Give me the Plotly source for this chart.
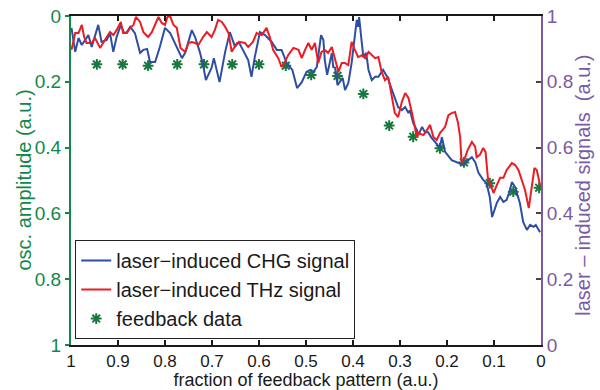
import plotly.graph_objects as go

# laser-induced CHG signal (fraction of feedback pattern, signal a.u.)
chg_points = [
    (0.999, 0.964), (0.991, 0.891), (0.984, 0.933), (0.977, 0.912), (0.963, 0.942),
    (0.956, 0.906), (0.942, 0.973), (0.935, 0.921), (0.924, 0.927), (0.917, 0.948),
    (0.910, 0.891), (0.903, 0.936), (0.894, 0.973), (0.887, 0.948), (0.881, 0.951),
    (0.874, 0.967), (0.864, 0.948), (0.853, 0.888), (0.846, 0.897), (0.838, 0.900),
    (0.832, 0.860), (0.821, 0.860), (0.811, 0.906), (0.800, 0.964), (0.789, 0.948),
    (0.779, 0.918), (0.764, 0.872), (0.757, 0.888), (0.743, 0.957), (0.736, 0.936),
    (0.726, 0.891), (0.719, 0.851), (0.713, 0.805), (0.701, 0.842), (0.696, 0.872),
    (0.684, 0.799), (0.672, 0.891), (0.662, 0.951), (0.651, 0.906), (0.643, 0.921),
    (0.632, 0.888), (0.623, 0.866), (0.616, 0.815), (0.609, 0.875), (0.598, 0.951),
    (0.587, 0.942), (0.573, 0.921), (0.562, 0.897), (0.552, 0.897), (0.541, 0.857),
    (0.529, 0.836), (0.519, 0.781), (0.509, 0.799), (0.499, 0.830), (0.491, 0.836),
    (0.484, 0.830), (0.477, 0.845), (0.472, 0.897), (0.468, 0.942), (0.463, 0.927),
    (0.460, 0.866), (0.455, 0.821), (0.449, 0.857), (0.445, 0.888), (0.442, 0.845),
    (0.438, 0.842), (0.433, 0.790), (0.428, 0.799), (0.422, 0.812), (0.417, 0.775),
    (0.410, 0.796), (0.403, 0.857), (0.397, 0.936), (0.392, 0.988), (0.389, 0.967),
    (0.387, 0.997), (0.383, 0.942), (0.378, 0.875), (0.372, 0.888), (0.367, 0.836),
    (0.360, 0.805), (0.353, 0.815), (0.346, 0.815), (0.336, 0.836), (0.327, 0.815),
    (0.311, 0.754), (0.304, 0.723), (0.296, 0.714), (0.289, 0.723), (0.282, 0.705),
    (0.279, 0.714), (0.272, 0.675), (0.264, 0.653), (0.261, 0.638), (0.253, 0.663),
    (0.247, 0.647), (0.240, 0.647), (0.234, 0.632), (0.224, 0.614), (0.215, 0.599),
    (0.211, 0.632), (0.204, 0.587), (0.190, 0.562), (0.179, 0.556), (0.165, 0.547),
    (0.155, 0.562), (0.147, 0.571), (0.140, 0.556), (0.133, 0.523), (0.123, 0.502),
    (0.116, 0.492), (0.109, 0.450), (0.104, 0.389), (0.094, 0.432), (0.087, 0.450),
    (0.080, 0.435), (0.073, 0.441), (0.066, 0.471), (0.062, 0.495), (0.055, 0.480),
    (0.048, 0.450), (0.045, 0.432), (0.038, 0.374), (0.030, 0.350), (0.023, 0.365),
    (0.016, 0.359), (0.011, 0.365), (0.002, 0.343),
]

# laser-induced THz signal
thz_points = [
    (0.999, 0.897), (0.991, 0.948), (0.984, 0.948), (0.977, 0.973), (0.972, 0.936),
    (0.967, 0.918), (0.956, 0.918), (0.949, 0.933), (0.938, 0.903), (0.931, 0.921),
    (0.924, 0.936), (0.917, 0.951), (0.910, 0.942), (0.903, 0.957), (0.894, 0.982),
    (0.889, 0.948), (0.881, 0.948), (0.874, 0.964), (0.867, 0.973), (0.862, 0.997),
    (0.853, 0.982), (0.846, 0.951), (0.836, 0.936), (0.828, 0.951), (0.821, 0.973),
    (0.814, 0.997), (0.807, 0.979), (0.800, 0.973), (0.795, 0.997), (0.789, 0.999),
    (0.782, 0.973), (0.775, 0.964), (0.767, 0.903), (0.757, 0.891), (0.750, 0.918),
    (0.743, 0.921), (0.736, 0.918), (0.729, 0.912), (0.719, 0.936), (0.711, 0.951),
    (0.701, 0.936), (0.694, 0.957), (0.687, 0.988), (0.679, 0.982), (0.672, 0.967),
    (0.665, 0.948), (0.658, 0.891), (0.647, 0.918), (0.640, 0.921), (0.630, 0.918),
    (0.623, 0.906), (0.613, 0.921), (0.605, 0.948), (0.594, 0.942), (0.584, 0.964),
    (0.577, 0.936), (0.570, 0.897), (0.559, 0.872), (0.552, 0.845), (0.545, 0.860),
    (0.538, 0.881), (0.527, 0.903), (0.516, 0.897), (0.509, 0.872), (0.502, 0.897),
    (0.495, 0.918), (0.488, 0.897), (0.481, 0.918), (0.474, 0.857), (0.467, 0.891),
    (0.460, 0.897), (0.453, 0.888), (0.445, 0.906), (0.438, 0.866), (0.431, 0.830),
    (0.424, 0.857), (0.417, 0.857), (0.410, 0.851), (0.403, 0.921), (0.396, 0.897),
    (0.389, 0.875), (0.381, 0.881), (0.374, 0.872), (0.367, 0.891), (0.360, 0.881),
    (0.353, 0.872), (0.346, 0.875), (0.339, 0.830), (0.332, 0.805), (0.325, 0.815),
    (0.318, 0.760), (0.311, 0.705), (0.304, 0.693), (0.296, 0.739), (0.289, 0.766),
    (0.282, 0.751), (0.275, 0.708), (0.268, 0.660), (0.264, 0.632), (0.261, 0.644),
    (0.250, 0.638), (0.243, 0.653), (0.236, 0.669), (0.229, 0.632), (0.222, 0.623),
    (0.215, 0.644), (0.204, 0.663), (0.197, 0.699), (0.190, 0.705), (0.183, 0.708),
    (0.177, 0.678), (0.172, 0.632), (0.169, 0.556), (0.162, 0.568), (0.156, 0.593),
    (0.147, 0.617), (0.140, 0.602), (0.137, 0.571), (0.130, 0.578), (0.123, 0.599),
    (0.118, 0.587), (0.113, 0.508), (0.109, 0.492), (0.101, 0.462), (0.094, 0.486),
    (0.087, 0.508), (0.080, 0.508), (0.073, 0.532), (0.062, 0.553), (0.055, 0.547),
    (0.048, 0.532), (0.041, 0.502), (0.034, 0.471), (0.026, 0.416), (0.020, 0.471),
    (0.014, 0.538), (0.009, 0.532), (0.002, 0.486),
]

# feedback data (osc. amplitude, left axis)
fb_x = [0.945, 0.890, 0.836, 0.774, 0.717, 0.657, 0.600, 0.543, 0.489,
        0.433, 0.378, 0.323, 0.272, 0.215, 0.164, 0.109, 0.059, 0.004]
fb_y = [0.147, 0.147, 0.151, 0.147, 0.147, 0.147, 0.147, 0.151, 0.179,
        0.182, 0.237, 0.333, 0.367, 0.402, 0.445, 0.508, 0.534, 0.522]

x_ticks = [0, 0.1, 0.2, 0.3, 0.4, 0.5, 0.6, 0.7, 0.8, 0.9, 1]
y_ticks = [0, 0.2, 0.4, 0.6, 0.8, 1]

GREEN = "#11884a"
PURPLE = "#7a5aa8"
BLUE = "#2d4ea3"
RED = "#ec1c24"
STAR = "#18783e"
FONT = "Liberation Sans"

fig = go.Figure()
fig.add_trace(go.Scatter(
    x=[p[0] for p in chg_points], y=[p[1] for p in chg_points],
    mode="lines", name="laser\u2212induced CHG signal",
    line=dict(color=BLUE, width=2), xaxis="x", yaxis="y2"))
fig.add_trace(go.Scatter(
    x=[p[0] for p in thz_points], y=[p[1] for p in thz_points],
    mode="lines", name="laser\u2212induced THz signal",
    line=dict(color=RED, width=2), xaxis="x", yaxis="y2"))
fig.add_trace(go.Scatter(
    x=fb_x, y=fb_y, mode="markers", name="feedback data",
    marker=dict(symbol="asterisk-open", size=9, color=STAR,
                line=dict(color=STAR, width=2)),
    xaxis="x", yaxis="y"))

fig.update_layout(
    width=600, height=390,
    margin=dict(l=71, r=59, t=16, b=45, autoexpand=False),
    paper_bgcolor="white", plot_bgcolor="white",
    font=dict(family=FONT, size=19, color="#1a1a1a"),
    showlegend=True,
    legend=dict(x=0.009, y=0.018, xanchor="left", yanchor="bottom",
                bgcolor="white", bordercolor="#222222", borderwidth=1,
                font=dict(family=FONT, size=20, color="#1a1a1a"),
                itemwidth=30, tracegroupgap=0),
    xaxis=dict(range=[1, 0], tickvals=x_ticks, ticktext=[f"{v:g}" for v in x_ticks],
               automargin=False,
               showgrid=False, zeroline=False, showline=True, linecolor="#1a1a1a",
               linewidth=2, mirror="ticks", ticks="inside", ticklen=5,
               tickcolor="#1a1a1a", tickwidth=1.5,
               tickfont=dict(family=FONT, size=17, color="#1a1a1a"),
               title=dict(text="fraction of feedback pattern (a.u.)", standoff=1,
                          font=dict(family=FONT, size=18, color="#1a1a1a"))),
    yaxis=dict(range=[1, 0], tickvals=y_ticks, ticktext=[f"{v:g}" for v in y_ticks],
               automargin=False,
               showgrid=False, zeroline=False, showline=True, linecolor=GREEN,
               linewidth=2, ticks="outside", ticklen=4, tickcolor=GREEN,
               tickwidth=1.5, tickfont=dict(family=FONT, size=19, color=GREEN)),
    yaxis2=dict(range=[0, 1], tickvals=y_ticks, ticktext=[f"{v:g}" for v in y_ticks],
                automargin=False,
                overlaying="y", side="right", anchor="x", showgrid=False,
                zeroline=False, showline=True, linecolor=PURPLE, linewidth=2,
                ticks="inside", ticklen=5, tickcolor="#444444", tickwidth=1.5,
                tickfont=dict(family=FONT, size=19, color=PURPLE)),
    annotations=[
        dict(text="osc. amplitude (a.u.)", xref="paper", yref="paper",
             x=-0.102, y=0.5, showarrow=False, textangle=-90,
             xanchor="center", yanchor="middle",
             font=dict(family=FONT, size=20, color=GREEN)),
        dict(text="laser \u2013 induced signals  (a.u.)", xref="paper", yref="paper",
             x=1.09, y=0.485, showarrow=False, textangle=-90,
             xanchor="center", yanchor="middle",
             font=dict(family=FONT, size=20, color=PURPLE)),
    ],
)

fig.write_html("out.html")
